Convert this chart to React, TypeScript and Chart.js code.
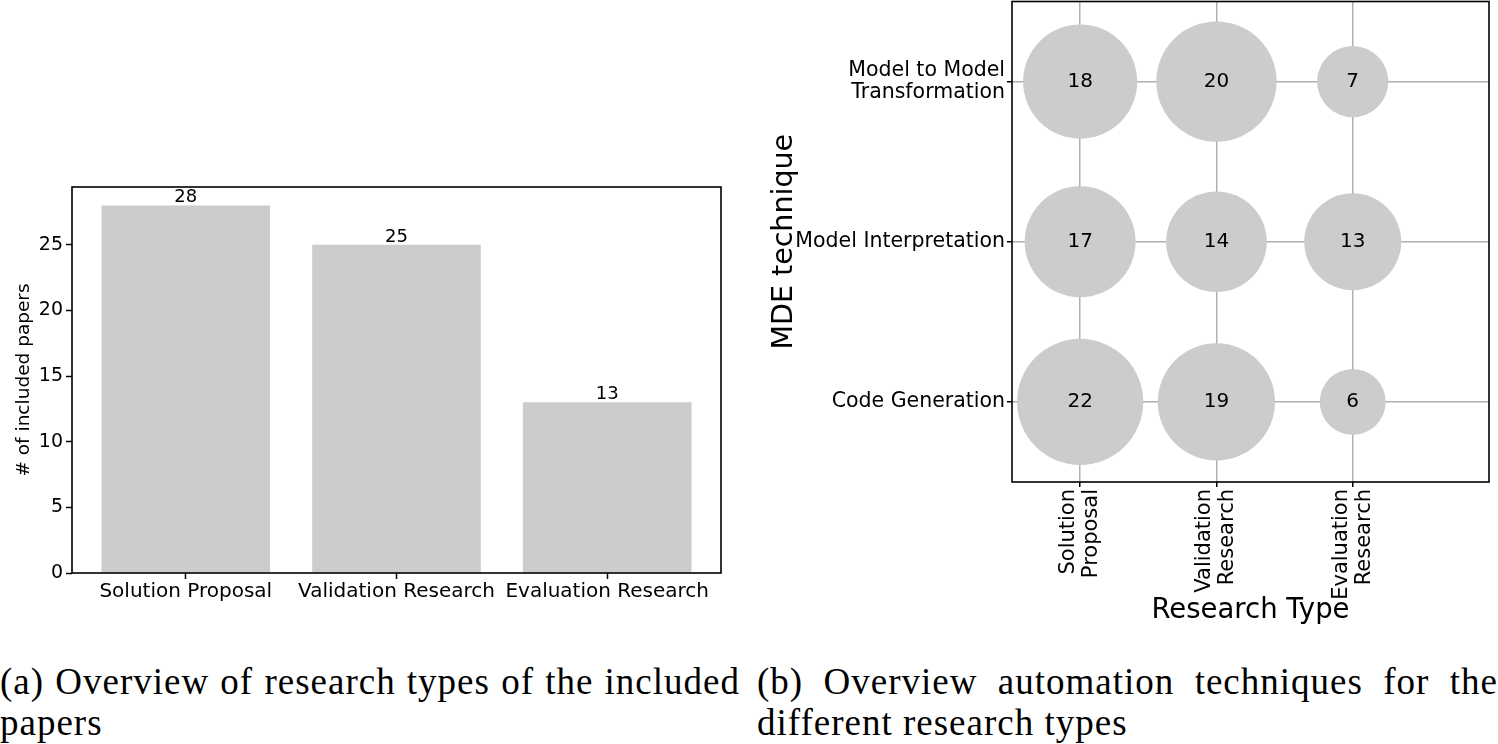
import React, { useEffect, useRef } from 'react';
import { Chart, registerables } from 'chart.js';

Chart.register(...registerables);

// ---------- Data ----------
const researchTypes = ['Solution Proposal', 'Validation Research', 'Evaluation Research'];
const paperCounts = [28, 25, 13];
const leftYTicks = [0, 5, 10, 15, 20, 25];

const researchTypeTicks = [
  ['Solution', 'Proposal'],
  ['Validation', 'Research'],
  ['Evaluation', 'Research'],
];
const mdeTechniques = [
  ['Code Generation'],
  ['Model Interpretation'],
  ['Model to Model', 'Transformation'],
];
// counts per research type, ordered as mdeTechniques (Code Gen, Model Interp, M2M)
const solutionProposalCounts = [22, 17, 18];
const validationResearchCounts = [19, 14, 20];
const evaluationResearchCounts = [6, 13, 7];

const captionA = '(a) Overview of research types of the included papers';
const captionB = '(b) Overview automation techniques for the different research types';

// ---------- Styles ----------
const FONT = 'DejaVu Sans';
const GREY = '#cccccc';

const framePlugin = {
  id: 'frame',
  afterDraw(chart: any) {
    const { ctx, chartArea: a } = chart;
    ctx.save();
    ctx.strokeStyle = '#000';
    ctx.lineWidth = 1.6;
    ctx.strokeRect(a.left, a.top, a.right - a.left, a.bottom - a.top);
    ctx.restore();
  },
};

const barLabelPlugin = {
  id: 'barLabels',
  afterDraw(chart: any) {
    const ctx = chart.ctx;
    ctx.save();
    ctx.font = `18px "${FONT}"`;
    ctx.fillStyle = '#000';
    ctx.textAlign = 'center';
    ctx.textBaseline = 'alphabetic';
    const meta = chart.getDatasetMeta(0);
    meta.data.forEach((el: any, i: number) => {
      ctx.fillText(String(paperCounts[i]), el.x, el.y - 3);
    });
    ctx.restore();
  },
};

const bubbleLabelPlugin = {
  id: 'bubbleLabels',
  afterDraw(chart: any) {
    const ctx = chart.ctx;
    ctx.save();
    ctx.font = `20px "${FONT}"`;
    ctx.fillStyle = '#000';
    ctx.textAlign = 'center';
    ctx.textBaseline = 'middle';
    chart.data.datasets.forEach((ds: any, di: number) => {
      chart.getDatasetMeta(di).data.forEach((el: any, i: number) => {
        ctx.fillText(String(ds.data[i].v), el.x, el.y);
      });
    });
    ctx.restore();
  },
};

const bubbleRadius = (v: number) => 13.45 * Math.sqrt(v);

const noScalePadding = (s: any) => {
  s.paddingTop = 0;
  s.paddingBottom = 0;
  s.paddingLeft = 0;
  s.paddingRight = 0;
};

export default function App() {
  const leftRef = useRef<HTMLCanvasElement | null>(null);
  const rightRef = useRef<HTMLCanvasElement | null>(null);

  useEffect(() => {
    Chart.defaults.font.family = FONT;
    Chart.defaults.color = '#000';

    const left = new Chart(leftRef.current as HTMLCanvasElement, {
      type: 'bar',
      data: {
        datasets: [
          {
            data: paperCounts.map((v, i) => ({ x: i, y: v })),
            backgroundColor: GREY,
            borderWidth: 0,
            categoryPercentage: 1,
            barPercentage: 0.8,
          } as any,
        ],
      },
      options: {
        responsive: false,
        animation: false,
        events: [],
        layout: { autoPadding: false, padding: { top: 17, right: 24, bottom: 0, left: 0 } },
        plugins: { legend: { display: false }, tooltip: { enabled: false } },
        scales: {
          x: {
            type: 'linear',
            min: -0.54,
            max: 2.54,
            offset: false,
            afterBuildTicks: (s: any) => {
              s.ticks = researchTypes.map((_, i) => ({ value: i }));
            },
            afterFit: (s: any) => {
              s.height = 42;
              noScalePadding(s);
            },
            ticks: {
              callback: (v: any) => researchTypes[v],
              font: { size: 20 },
              color: '#000',
              padding: 1,
              minRotation: 0,
              maxRotation: 0,
              autoSkip: false,
            },
            grid: {
              display: true,
              drawOnChartArea: false,
              drawTicks: true,
              tickLength: 6,
              tickColor: '#000',
              tickWidth: 1.5,
              offset: false,
            },
            border: { display: false },
          } as any,
          y: {
            type: 'linear',
            min: 0,
            max: 29.4,
            afterBuildTicks: (s: any) => {
              s.ticks = leftYTicks.map((v) => ({ value: v }));
            },
            afterFit: (s: any) => {
              s.width = 72;
              noScalePadding(s);
            },
            ticks: { font: { size: 19 }, color: '#000', padding: 3 },
            grid: {
              drawOnChartArea: false,
              tickLength: 6,
              tickColor: '#000',
              tickWidth: 1.5,
            },
            border: { display: false },
            title: {
              display: true,
              text: '# of included papers',
              font: { size: 18.5 },
              color: '#000',
              padding: { top: 13, bottom: 0 },
            },
          } as any,
        },
      },
      plugins: [framePlugin, barLabelPlugin],
    });

    const columns = [solutionProposalCounts, validationResearchCounts, evaluationResearchCounts];
    const right = new Chart(rightRef.current as HTMLCanvasElement, {
      type: 'bubble',
      data: {
        datasets: columns.map((counts, col) => ({
          data: counts.map((v, row) => ({ x: col, y: row, r: bubbleRadius(v), v })),
          backgroundColor: GREY,
          borderWidth: 0,
          hoverRadius: 0,
        })) as any,
      },
      options: {
        responsive: false,
        animation: false,
        events: [],
        layout: { autoPadding: false, padding: { top: 1.5, right: 9, bottom: 0, left: 0 } },
        plugins: { legend: { display: false }, tooltip: { enabled: false } },
        scales: {
          x: {
            type: 'linear',
            position: 'bottom',
            min: -0.5,
            max: 3,
            z: 1,
            afterBuildTicks: (s: any) => {
              s.ticks = researchTypeTicks.map((_, i) => ({ value: i }));
            },
            afterFit: (s: any) => {
              s.height = 158;
              noScalePadding(s);
            },
            ticks: {
              callback: (v: any) => researchTypeTicks[v],
              font: { size: 21, lineHeight: 1.1 },
              color: '#000',
              padding: 2,
              minRotation: 90,
              maxRotation: 90,
              autoSkip: false,
              labelOffset: -11.5,
            },
            grid: {
              color: '#b0b0b0',
              lineWidth: 1.5,
              drawOnChartArea: true,
              tickLength: 5,
              tickColor: '#000',
              tickWidth: 1.5,
            },
            border: { display: false },
            title: {
              display: true,
              text: 'Research Type',
              font: { size: 27.5 },
              color: '#000',
              padding: { top: 0, bottom: 13 },
            },
          } as any,
          y: {
            type: 'linear',
            min: -0.5,
            max: 2.5,
            z: 1,
            afterBuildTicks: (s: any) => {
              s.ticks = mdeTechniques.map((_, i) => ({ value: i }));
            },
            afterFit: (s: any) => {
              s.width = 252;
              noScalePadding(s);
            },
            ticks: {
              callback: (v: any) => mdeTechniques[v],
              font: { size: 20.5, lineHeight: 1.1 },
              color: '#000',
              padding: 2,
            },
            grid: {
              color: '#b0b0b0',
              lineWidth: 1.5,
              drawOnChartArea: true,
              tickLength: 5,
              tickColor: '#000',
              tickWidth: 1.5,
            },
            border: { display: false },
            title: {
              display: true,
              text: 'MDE technique',
              font: { size: 28.5 },
              color: '#000',
              padding: { top: 7, bottom: 0 },
            },
          } as any,
        },
      },
      plugins: [framePlugin, bubbleLabelPlugin],
    });

    return () => {
      left.destroy();
      right.destroy();
    };
  }, []);

  const captionStyle: React.CSSProperties = {
    position: 'absolute',
    fontFamily: '"Liberation Serif", serif',
    fontSize: '37px',
    lineHeight: '41px',
    letterSpacing: '1px',
    textAlign: 'justify',
    color: '#000',
    margin: 0,
  };

  return (
    <div style={{ position: 'absolute', left: 0, top: 0, width: 1498, height: 744, background: '#fff', overflow: 'hidden' }}>
      <canvas
        ref={leftRef}
        width={745}
        height={445}
        style={{ position: 'absolute', left: 0, top: 170, width: 745, height: 445 }}
      />
      <canvas
        ref={rightRef}
        width={738}
        height={640}
        style={{ position: 'absolute', left: 760, top: 0, width: 738, height: 640 }}
      />
      <div style={{ ...captionStyle, left: 0, top: 661, width: 740 }}>{captionA}</div>
      <div style={{ ...captionStyle, left: 757, top: 661, width: 741 }}>{captionB}</div>
    </div>
  );
}
